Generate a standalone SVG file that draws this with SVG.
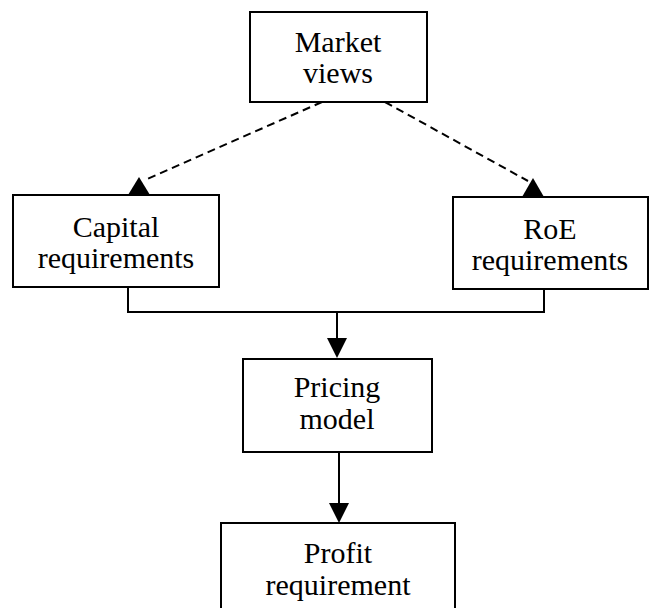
<svg xmlns="http://www.w3.org/2000/svg" width="653" height="608" viewBox="0 0 653 608">
<style>
.box{fill:#fff;stroke:#000;stroke-width:2}
.t{font-size:30px;fill:#000;text-anchor:middle}
.ln{fill:none;stroke:#000;stroke-width:2}
.dash{fill:none;stroke:#000;stroke-width:2;stroke-dasharray:8 5}
.ah{fill:#000;stroke:none}
</style>
<rect width="653" height="608" fill="#fff"/>
<g id="connectors">
<path class="dash" d="M322,102 L145,180"/>
<path class="dash" d="M385,102 L528,181"/>
<path class="ln" d="M128,287 V312 H544 V289"/>
<path class="ln" d="M337,312 V340"/>
<path class="ln" d="M339,452 V505"/>
<polygon class="ah" points="128,195 150,195 139,177"/>
<polygon class="ah" points="522,197 544,197 533,178"/>
<polygon class="ah" points="327,338 347,338 337,358"/>
<polygon class="ah" points="329,503 349,503 339,523"/>
</g>
<g font-family="Liberation Serif, DejaVu Serif, serif">
<g id="market-views">
<rect class="box" x="250" y="12" width="177" height="90"/>
<text class="t" x="338" y="52">Market</text>
<text class="t" x="338" y="83">views</text>
</g>
<g id="capital-requirements">
<rect class="box" x="13" y="195" width="206" height="92"/>
<text class="t" x="116" y="237">Capital</text>
<text class="t" x="116" y="268">requirements</text>
</g>
<g id="roe-requirements">
<rect class="box" x="453" y="197" width="195" height="92"/>
<text class="t" x="550" y="239">RoE</text>
<text class="t" x="550" y="270">requirements</text>
</g>
<g id="pricing-model">
<rect class="box" x="243" y="359" width="189" height="93"/>
<text class="t" x="337" y="397">Pricing</text>
<text class="t" x="337" y="429">model</text>
</g>
<g id="profit-requirement">
<path class="box" d="M221,612 V523 H455 V612"/>
<text class="t" x="338" y="563">Profit</text>
<text class="t" x="338" y="595">requirement</text>
</g>
</g>
</svg>
